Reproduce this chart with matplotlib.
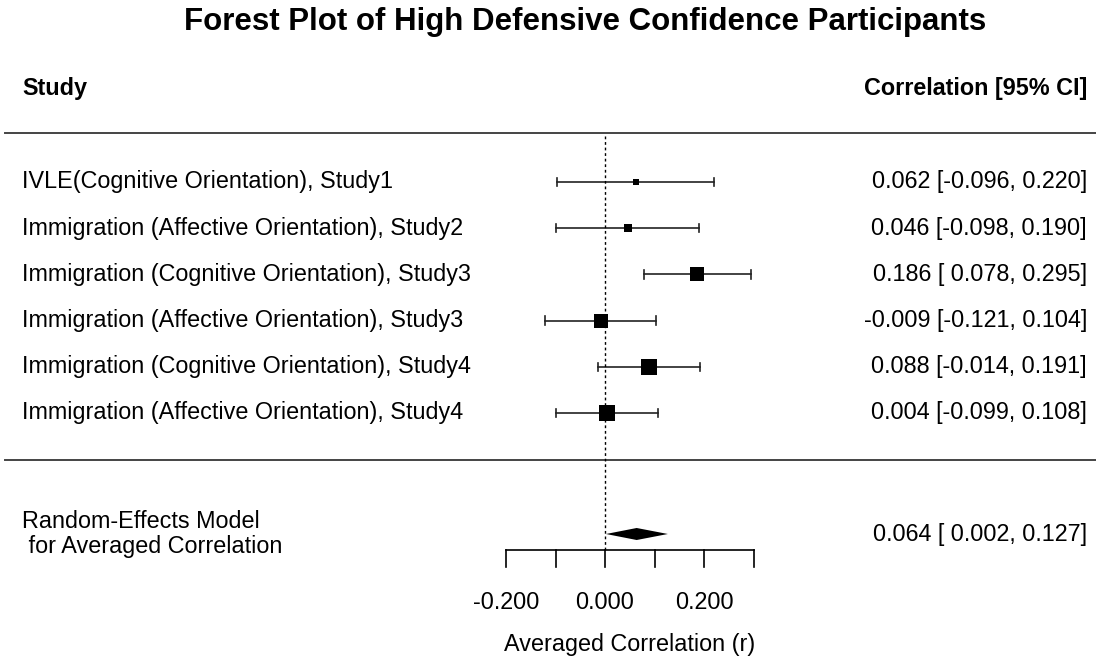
import numpy as np
import matplotlib
matplotlib.use('Agg')
import matplotlib.pyplot as plt
import matplotlib.transforms as mtransforms

# study data
studies = ['IVLE(Cognitive Orientation), Study1',
           'Immigration (Affective Orientation), Study2',
           'Immigration (Cognitive Orientation), Study3',
           'Immigration (Affective Orientation), Study3',
           'Immigration (Cognitive Orientation), Study4',
           'Immigration (Affective Orientation), Study4']
est = [0.062, 0.046, 0.186, -0.009, 0.088, 0.004]
ci_lb = [-0.096, -0.098, 0.078, -0.121, -0.014, -0.099]
ci_ub = [0.220, 0.190, 0.295, 0.104, 0.191, 0.108]

summary_label = ['Random-Effects Model', ' for Averaged Correlation']
summary_est = 0.064
summary_lb = 0.002
summary_ub = 0.127

xticks = [-0.2, -0.1, 0.0, 0.1, 0.2, 0.3]
xticklabels = ['-0.200', '', '0.000', '', '0.200', '']

plt.rcParams['font.family'] = ['Liberation Sans', 'DejaVu Sans']
fs = 16.8

W, H = 1096, 658
fig = plt.figure(figsize=(W / 100, H / 100), dpi=100)
ax = fig.add_axes([0, 0, 1, 1])
ax.axis('off')

# pixel mapping: x=0 at 605px, 495 px per unit; rows 46.2 px apart, first at 182px
px_unit = 495.0
row_h = 46.2
ax.set_xlim(-605 / px_unit, (W - 605) / px_unit)
ax.set_ylim((H - 182) / row_h, -182 / row_h)

def ypx(p):
    return (p - 182) / row_h

k = len(studies)
rows = np.arange(k)
lab = mtransforms.blended_transform_factory(ax.transAxes, ax.transData)

# marker sizes like metafor: linear in inverse variance, scaled to 0.5..1.5
vi = ((np.array(ci_ub) - np.array(ci_lb)) / (2 * 1.96)) ** 2
wi = 1 / vi
psize = (wi - wi.min()) / (wi.max() - wi.min()) + 0.5

lc = '#222222'
for i in range(k):
    y = rows[i]
    ax.plot([ci_lb[i], ci_ub[i]], [y, y], color=lc, lw=1.2)
    for e in (ci_lb[i], ci_ub[i]):
        ax.plot([e, e], [y - 0.09, y + 0.09], color=lc, lw=1.2)
    ax.plot(est[i], y, marker='s', color='black', ms=psize[i] * 10.8 * 0.72, mew=0)
    ax.text(0.020, y, studies[i], transform=lab, ha='left', va='center', fontsize=fs)
    ax.text(0.9918, y, '{:.3f} [{:>6.3f}, {:.3f}]'.format(est[i], ci_lb[i], ci_ub[i]),
            transform=lab, ha='right', va='center', fontsize=fs)

# summary diamond
ys = ypx(534)
dh = 0.13
ax.fill([summary_lb, summary_est, summary_ub, summary_est],
        [ys, ys - dh, ys, ys + dh], color='black', lw=0)
ax.text(0.020, ypx(521), summary_label[0], transform=lab, ha='left', va='center', fontsize=fs)
ax.text(0.020, ypx(547), summary_label[1], transform=lab, ha='left', va='center', fontsize=fs)
ax.text(0.9918, ys, '{:.3f} [{:>6.3f}, {:.3f}]'.format(summary_est, summary_lb, summary_ub),
        transform=lab, ha='right', va='center', fontsize=fs)

# separator lines
for p in (133, 460):
    ax.plot([0.005, 1.0], [ypx(p), ypx(p)], transform=lab, color='#444444', lw=1.4)

# reference line at 0
ax.plot([0, 0], [ypx(136), ypx(550)], color='black', lw=1, ls=(0, (2, 2)))

# x axis
ya = ypx(550)
ax.plot([xticks[0], xticks[-1]], [ya, ya], color='black', lw=1.2)
for t, tl in zip(xticks, xticklabels):
    ax.plot([t, t], [ya, ypx(567)], color='black', lw=1.2)
    if tl:
        ax.text(t, ypx(603), tl, ha='center', va='center', fontsize=fs)
ax.text(np.mean([xticks[0], xticks[-1]]), ypx(645), 'Averaged Correlation (r)',
        ha='center', va='center', fontsize=fs)

# headers and title
ax.text(0.020, ypx(88), 'Study', transform=lab, ha='left', va='center', fontsize=fs, fontweight='bold')
ax.text(0.9918, ypx(88), 'Correlation [95% CI]', transform=lab, ha='right', va='center',
        fontsize=fs, fontweight='bold')
ax.text(585 / W, ypx(22), 'Forest Plot of High Defensive Confidence Participants', transform=lab,
        ha='center', va='center', fontsize=22.5, fontweight='bold')

fig.savefig('out.png', dpi=100)
